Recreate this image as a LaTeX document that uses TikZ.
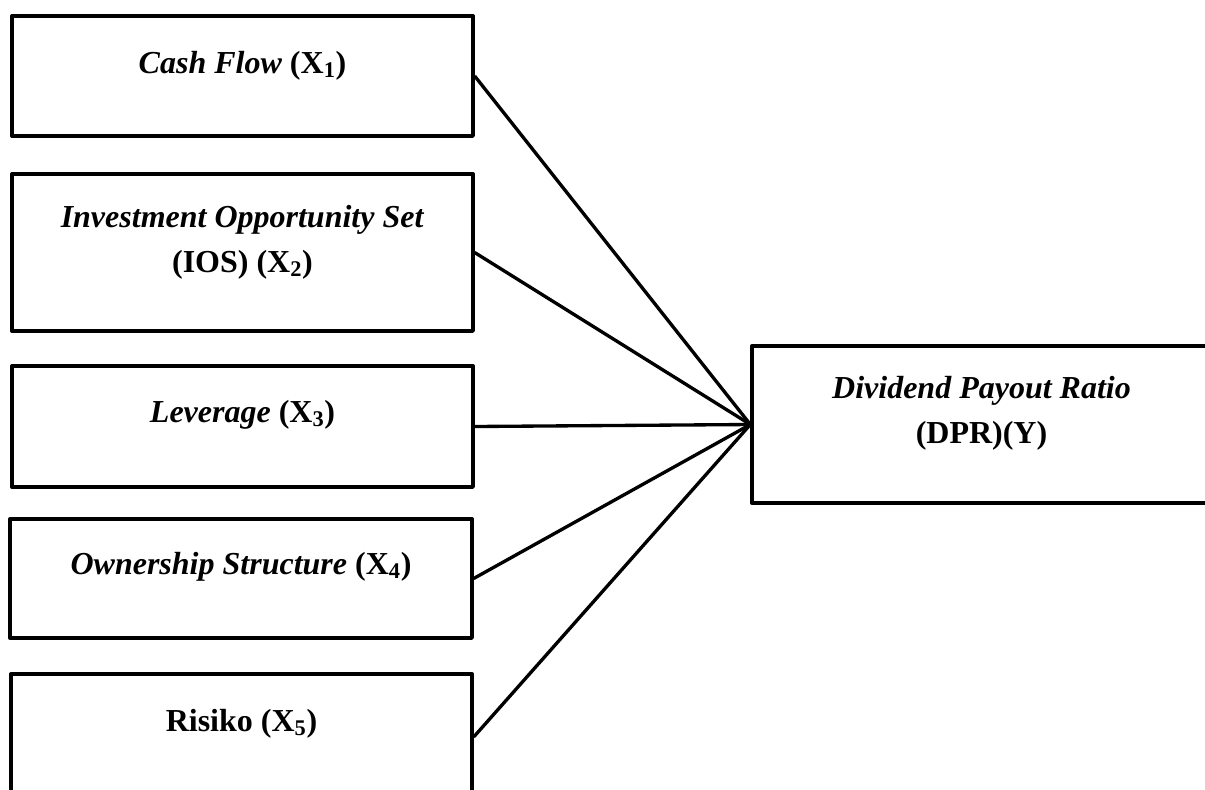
\documentclass[tikz,border=0pt]{standalone}
\usepackage{fontspec}
\setmainfont{Liberation Serif}
\begin{document}
\begin{tikzpicture}[x=0.75pt,y=-0.75pt,
  box/.style={draw,line width=2.5pt,rectangle,inner sep=0pt,line join=round},
  lbl/.style={anchor=base,inner sep=0pt,font=\fontsize{24pt}{33.75pt}\selectfont\bfseries,align=center},
  conn/.style={line width=2.5pt}]
\useasboundingbox (0,0) rectangle (1205,789);
\clip (0,0) rectangle (1205,789);
\node[box,minimum width=461*0.75pt,minimum height=120*0.75pt] (b1) at (242.5,76) {};
\node[box,minimum width=461*0.75pt,minimum height=157*0.75pt] (b2) at (242.5,252.5) {};
\node[box,minimum width=461*0.75pt,minimum height=121*0.75pt] (b3) at (242.5,426.5) {};
\node[box,minimum width=462*0.75pt,minimum height=119*0.75pt] (b4) at (241,578.5) {};
\node[box,minimum width=461*0.75pt,minimum height=126*0.75pt] (b5) at (241.5,737) {};
\node[box,minimum width=459*0.75pt,minimum height=157*0.75pt] (y) at (981.5,424.5) {};
\node[lbl] (t1) at (242.5,73) {\textit{Cash Flow} (X\textsubscript{1})};
\node[lbl] (t2) at (242.5,272) {\textit{Investment Opportunity Set}\\(IOS) (X\textsubscript{2})};
\node[lbl] (t3) at (242.5,422) {\textit{Leverage} (X\textsubscript{3})};
\node[lbl] (t4) at (241,574) {\textit{Ownership Structure} (X\textsubscript{4})};
\node[lbl] (t5) at (241.5,731) {Risiko (X\textsubscript{5})};
\node[lbl] (ty) at (981.5,443) {\textit{Dividend Payout Ratio}\\(DPR)(Y)};
\foreach \b in {b1,b2,b3,b4,b5} \draw[conn] (\b.east) -- (y.west);
\end{tikzpicture}
\end{document}
